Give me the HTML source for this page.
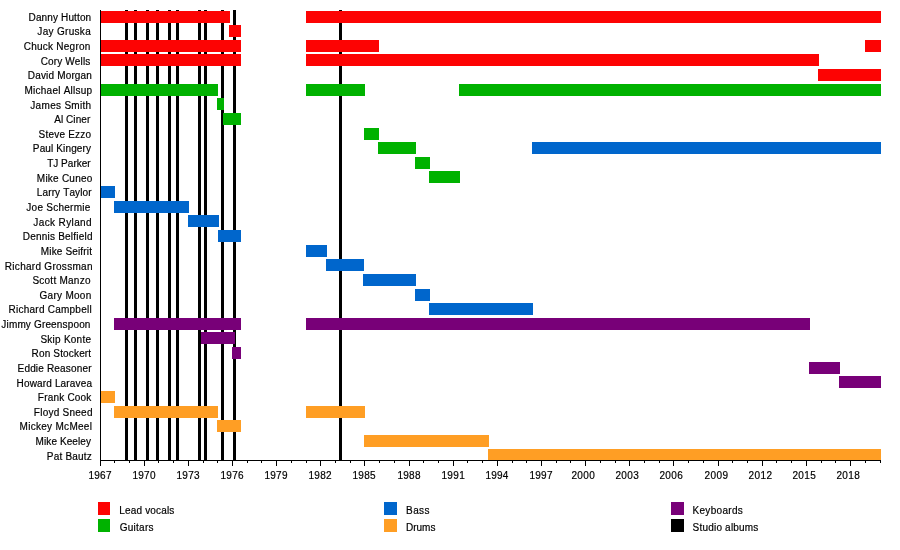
<!DOCTYPE html>
<html><head><meta charset="utf-8"><title>Three Dog Night timeline</title>
<style>html,body{margin:0;padding:0;background:#fff}svg{display:block}text{font-family:"Liberation Sans",Arial,Helvetica,sans-serif;font-size:10px;fill:#000;font-kerning:none;stroke:#000;stroke-width:.18px}</style></head><body>
<svg width="900" height="550" viewBox="0 0 900 550">
<rect width="900" height="550" fill="#fff"/>
<g fill="#000">
<rect x="125" y="10" width="3" height="450.5"/>
<rect x="134" y="10" width="3" height="450.5"/>
<rect x="146" y="10" width="3" height="450.5"/>
<rect x="156" y="10" width="3" height="450.5"/>
<rect x="168" y="10" width="3" height="450.5"/>
<rect x="176" y="10" width="3" height="450.5"/>
<rect x="198" y="10" width="3" height="450.5"/>
<rect x="204" y="10" width="3" height="450.5"/>
<rect x="221" y="10" width="3" height="450.5"/>
<rect x="233" y="10" width="3" height="450.5"/>
<rect x="339" y="10" width="3" height="450.5"/>
</g>
<g shape-rendering="auto">
<rect x="100" y="11.00" width="130" height="12" fill="#fd0303"/>
<rect x="306" y="11.00" width="575" height="12" fill="#fd0303"/>
<rect x="229" y="25.00" width="12" height="12" fill="#fd0303"/>
<rect x="100" y="40.00" width="141" height="12" fill="#fd0303"/>
<rect x="306" y="40.00" width="73" height="12" fill="#fd0303"/>
<rect x="865" y="40.00" width="16" height="12" fill="#fd0303"/>
<rect x="100" y="54.00" width="141" height="12" fill="#fd0303"/>
<rect x="306" y="54.00" width="513" height="12" fill="#fd0303"/>
<rect x="818" y="69.00" width="63" height="12" fill="#fd0303"/>
<rect x="100" y="84.00" width="118" height="12" fill="#00b200"/>
<rect x="306" y="84.00" width="59" height="12" fill="#00b200"/>
<rect x="459" y="84.00" width="422" height="12" fill="#00b200"/>
<rect x="217" y="98.00" width="7" height="12" fill="#00b200"/>
<rect x="223" y="113.00" width="18" height="12" fill="#00b200"/>
<rect x="364" y="128.00" width="15" height="12" fill="#00b200"/>
<rect x="378" y="142.00" width="38" height="12" fill="#00b200"/>
<rect x="532" y="142.00" width="349" height="12" fill="#0066cc"/>
<rect x="415" y="157.00" width="15" height="12" fill="#00b200"/>
<rect x="429" y="171.00" width="31" height="12" fill="#00b200"/>
<rect x="100" y="186.00" width="15" height="12" fill="#0066cc"/>
<rect x="114" y="201.00" width="75" height="12" fill="#0066cc"/>
<rect x="188" y="215.00" width="31" height="12" fill="#0066cc"/>
<rect x="218" y="230.00" width="23" height="12" fill="#0066cc"/>
<rect x="306" y="245.00" width="21" height="12" fill="#0066cc"/>
<rect x="326" y="259.00" width="38" height="12" fill="#0066cc"/>
<rect x="363" y="274.00" width="53" height="12" fill="#0066cc"/>
<rect x="415" y="289.00" width="15" height="12" fill="#0066cc"/>
<rect x="429" y="303.00" width="104" height="12" fill="#0066cc"/>
<rect x="114" y="318.00" width="127" height="12" fill="#780078"/>
<rect x="306" y="318.00" width="504" height="12" fill="#780078"/>
<rect x="201" y="332.00" width="34" height="12" fill="#780078"/>
<rect x="232" y="347.00" width="9" height="12" fill="#780078"/>
<rect x="809" y="362.00" width="31" height="12" fill="#780078"/>
<rect x="839" y="376.00" width="42" height="12" fill="#780078"/>
<rect x="100" y="391.00" width="15" height="12" fill="#ff9e24"/>
<rect x="114" y="406.00" width="104" height="12" fill="#ff9e24"/>
<rect x="306" y="406.00" width="59" height="12" fill="#ff9e24"/>
<rect x="217" y="420.00" width="24" height="12" fill="#ff9e24"/>
<rect x="364" y="435.00" width="125" height="12" fill="#ff9e24"/>
<rect x="488" y="449.00" width="393" height="12" fill="#ff9e24"/>
</g>
<g fill="#000">
<rect x="100" y="10" width="1" height="451"/>
<rect x="100" y="460" width="781" height="1"/>
<rect x="100" y="460" width="1" height="6"/>
<rect x="114" y="460" width="1" height="3"/>
<rect x="129" y="460" width="1" height="3"/>
<rect x="144" y="460" width="1" height="6"/>
<rect x="158" y="460" width="1" height="3"/>
<rect x="173" y="460" width="1" height="3"/>
<rect x="188" y="460" width="1" height="6"/>
<rect x="203" y="460" width="1" height="3"/>
<rect x="217" y="460" width="1" height="3"/>
<rect x="232" y="460" width="1" height="6"/>
<rect x="247" y="460" width="1" height="3"/>
<rect x="261" y="460" width="1" height="3"/>
<rect x="276" y="460" width="1" height="6"/>
<rect x="291" y="460" width="1" height="3"/>
<rect x="306" y="460" width="1" height="3"/>
<rect x="320" y="460" width="1" height="6"/>
<rect x="335" y="460" width="1" height="3"/>
<rect x="350" y="460" width="1" height="3"/>
<rect x="364" y="460" width="1" height="6"/>
<rect x="379" y="460" width="1" height="3"/>
<rect x="394" y="460" width="1" height="3"/>
<rect x="409" y="460" width="1" height="6"/>
<rect x="423" y="460" width="1" height="3"/>
<rect x="438" y="460" width="1" height="3"/>
<rect x="453" y="460" width="1" height="6"/>
<rect x="467" y="460" width="1" height="3"/>
<rect x="482" y="460" width="1" height="3"/>
<rect x="497" y="460" width="1" height="6"/>
<rect x="512" y="460" width="1" height="3"/>
<rect x="526" y="460" width="1" height="3"/>
<rect x="541" y="460" width="1" height="6"/>
<rect x="556" y="460" width="1" height="3"/>
<rect x="570" y="460" width="1" height="3"/>
<rect x="585" y="460" width="1" height="6"/>
<rect x="600" y="460" width="1" height="3"/>
<rect x="615" y="460" width="1" height="3"/>
<rect x="629" y="460" width="1" height="6"/>
<rect x="644" y="460" width="1" height="3"/>
<rect x="659" y="460" width="1" height="3"/>
<rect x="673" y="460" width="1" height="6"/>
<rect x="688" y="460" width="1" height="3"/>
<rect x="703" y="460" width="1" height="3"/>
<rect x="718" y="460" width="1" height="6"/>
<rect x="732" y="460" width="1" height="3"/>
<rect x="747" y="460" width="1" height="3"/>
<rect x="762" y="460" width="1" height="6"/>
<rect x="776" y="460" width="1" height="3"/>
<rect x="791" y="460" width="1" height="3"/>
<rect x="806" y="460" width="1" height="6"/>
<rect x="821" y="460" width="1" height="3"/>
<rect x="835" y="460" width="1" height="3"/>
<rect x="850" y="460" width="1" height="6"/>
<rect x="865" y="460" width="1" height="3"/>
<rect x="880" y="460" width="1" height="3"/>
</g>
<g>
<text x="88.38" y="478.7" style="letter-spacing:0.293px">1967</text>
<text x="132.38" y="478.7" style="letter-spacing:0.275px">1970</text>
<text x="176.38" y="478.7" style="letter-spacing:0.327px">1973</text>
<text x="220.38" y="478.7" style="letter-spacing:0.332px">1976</text>
<text x="264.38" y="478.7" style="letter-spacing:0.292px">1979</text>
<text x="308.38" y="478.7" style="letter-spacing:0.327px">1982</text>
<text x="352.38" y="478.7" style="letter-spacing:0.320px">1985</text>
<text x="397.38" y="478.7" style="letter-spacing:0.312px">1988</text>
<text x="441.38" y="478.7" style="letter-spacing:0.396px">1991</text>
<text x="485.38" y="478.7" style="letter-spacing:0.209px">1994</text>
<text x="529.38" y="478.7" style="letter-spacing:0.293px">1997</text>
<text x="571.40" y="478.7" style="letter-spacing:0.418px">2000</text>
<text x="615.40" y="478.7" style="letter-spacing:0.412px">2003</text>
<text x="659.40" y="478.7" style="letter-spacing:0.412px">2006</text>
<text x="704.40" y="478.7" style="letter-spacing:0.456px">2009</text>
<text x="748.40" y="478.7" style="letter-spacing:0.434px">2012</text>
<text x="792.40" y="478.7" style="letter-spacing:0.392px">2015</text>
<text x="836.40" y="478.7" style="letter-spacing:0.405px">2018</text>
</g>
<g>
<text x="28.57" y="20.8" style="letter-spacing:0.132px">Danny Hutton</text>
<text x="37.36" y="35.4" style="letter-spacing:0.311px">Jay Gruska</text>
<text x="23.66" y="50.0" style="letter-spacing:0.252px">Chuck Negron</text>
<text x="40.66" y="64.7" style="letter-spacing:0.147px">Cory Wells</text>
<text x="27.84" y="79.3" style="letter-spacing:0.164px">David Morgan</text>
<text x="24.55" y="93.9" style="letter-spacing:0.235px">Michael Allsup</text>
<text x="30.32" y="108.5" style="letter-spacing:0.308px">James Smith</text>
<text x="54.24" y="123.2" style="letter-spacing:0.058px">Al Ciner</text>
<text x="38.62" y="137.8" style="letter-spacing:0.198px">Steve Ezzo</text>
<text x="32.84" y="152.4" style="letter-spacing:0.133px">Paul Kingery</text>
<text x="47.18" y="167.1" style="letter-spacing:0.019px">TJ Parker</text>
<text x="36.84" y="181.7" style="letter-spacing:0.235px">Mike Cuneo</text>
<text x="36.84" y="196.3" style="letter-spacing:0.127px">Larry Taylor</text>
<text x="26.36" y="210.9" style="letter-spacing:0.255px">Joe Schermie</text>
<text x="33.36" y="225.6" style="letter-spacing:0.376px">Jack Ryland</text>
<text x="22.85" y="240.2" style="letter-spacing:0.210px">Dennis Belfield</text>
<text x="40.85" y="254.8" style="letter-spacing:0.148px">Mike Seifrit</text>
<text x="4.85" y="269.5" style="letter-spacing:0.283px">Richard Grossman</text>
<text x="32.40" y="284.1" style="letter-spacing:0.248px">Scott Manzo</text>
<text x="39.50" y="298.7" style="letter-spacing:0.289px">Gary Moon</text>
<text x="8.57" y="313.4" style="letter-spacing:0.238px">Richard Campbell</text>
<text x="1.36" y="328.0" style="letter-spacing:0.158px">Jimmy Greenspoon</text>
<text x="40.40" y="342.6" style="letter-spacing:0.251px">Skip Konte</text>
<text x="31.55" y="357.2" style="letter-spacing:0.163px">Ron Stockert</text>
<text x="17.57" y="371.9" style="letter-spacing:0.168px">Eddie Reasoner</text>
<text x="16.55" y="386.5" style="letter-spacing:0.160px">Howard Laravea</text>
<text x="37.86" y="401.1" style="letter-spacing:0.199px">Frank Cook</text>
<text x="33.84" y="415.8" style="letter-spacing:0.251px">Floyd Sneed</text>
<text x="19.55" y="430.4" style="letter-spacing:0.290px">Mickey McMeel</text>
<text x="35.57" y="445.0" style="letter-spacing:0.096px">Mike Keeley</text>
<text x="46.84" y="459.7" style="letter-spacing:0.202px">Pat Bautz</text>
</g>
<rect x="98" y="502" width="12" height="13" fill="#fd0303"/>
<text x="119.29" y="513.5" style="letter-spacing:0.170px">Lead vocals</text>
<rect x="98" y="519" width="12" height="13" fill="#00b200"/>
<text x="119.74" y="530.5" style="letter-spacing:0.251px">Guitars</text>
<rect x="384" y="502" width="13" height="13" fill="#0066cc"/>
<text x="406.10" y="513.5" style="letter-spacing:0.383px">Bass</text>
<rect x="384" y="519" width="13" height="13" fill="#ff9e24"/>
<text x="406.10" y="530.5" style="letter-spacing:-0.028px">Drums</text>
<rect x="671" y="502" width="13" height="13" fill="#780078"/>
<text x="692.54" y="513.5" style="letter-spacing:0.305px">Keyboards</text>
<rect x="671" y="519" width="13" height="13" fill="#000"/>
<text x="692.62" y="530.5" style="letter-spacing:0.197px">Studio albums</text>
</svg></body></html>
